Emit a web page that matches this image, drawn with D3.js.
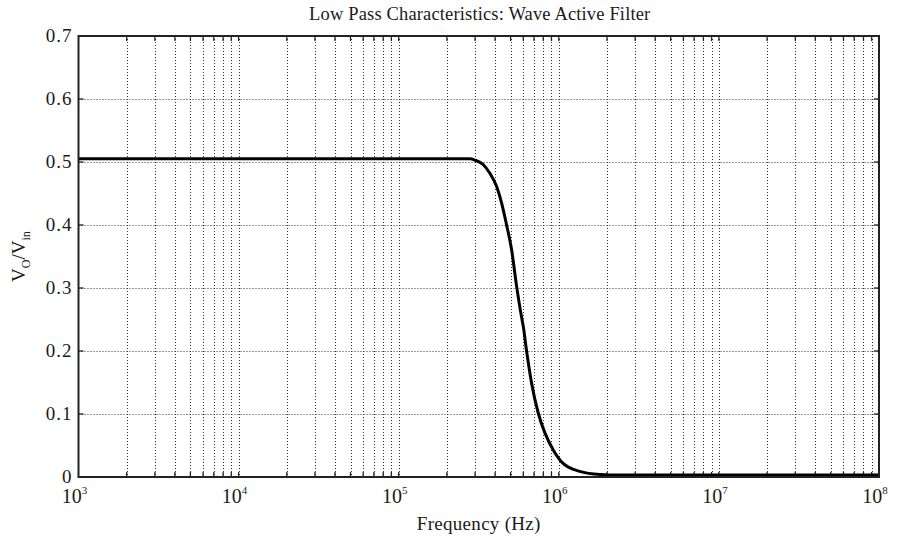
<!DOCTYPE html>
<html><head><meta charset="utf-8">
<script src="https://cdn.jsdelivr.net/npm/d3@7"></script>
<style>body{margin:0;background:#fff}svg{display:block}text{font-family:"Liberation Serif","Times New Roman",serif;fill:#1a1a1a}</style>
</head><body><svg id="c" width="897" height="540"></svg>
<script>
const title = "Low Pass Characteristics: Wave Active Filter";
const xLabel = "Frequency (Hz)";
const freq = [1e3, 1e4, 1e5, 2e5, 2.79e5, 2.99e5, 3.37e5, 3.71e5, 4.09e5, 4.39e5, 4.72e5, 5.07e5, 5.45e5, 5.86e5, 6.0e5, 6.3e5, 6.76e5, 7.43e5, 8.19e5, 9.23e5, 1.06e6, 1.35e6, 1.81e6, 2.4e6, 1e7, 1e8];
const gain = [0.505, 0.505, 0.505, 0.505, 0.505, 0.503, 0.496, 0.482, 0.461, 0.435, 0.400, 0.361, 0.303, 0.253, 0.239, 0.199, 0.149, 0.102, 0.070, 0.043, 0.022, 0.009, 0.004, 0.003, 0.003, 0.003];
const yTicks = [0, 0.1, 0.2, 0.3, 0.4, 0.5, 0.6, 0.7];
const xExps = [3, 4, 5, 6, 7, 8];

const svg = d3.select("#c");
const L = 78.5, R = 879, T = 36, B = 477;
const x = d3.scaleLog().domain([1e3, 1e8]).range([L, R]);
const y = d3.scaleLinear().domain([0, 0.7]).range([B, T]);

const gridX = [];
for (let e = 3; e < 8; e++) for (let m = 1; m <= 9; m++) { const v = m * Math.pow(10, e); if (v > 1e3) gridX.push(v); }

const g = svg.append("g");
g.selectAll(".vg").data(gridX).enter().append("line")
  .attr("x1", d => Math.round(x(d)) + 0.5).attr("x2", d => Math.round(x(d)) + 0.5)
  .attr("y1", T).attr("y2", B).attr("stroke", "#333").attr("stroke-width", 1).attr("stroke-dasharray", "1,2");
g.selectAll(".hg").data(yTicks.slice(1, -1)).enter().append("line")
  .attr("y1", d => Math.round(y(d)) + 0.5).attr("y2", d => Math.round(y(d)) + 0.5)
  .attr("x1", L).attr("x2", R).attr("stroke", "#333").attr("stroke-width", 1).attr("stroke-dasharray", "1,2");

const tk = 5;
g.selectAll(".tb").data(gridX).enter().append("line")
  .attr("x1", d => x(d)).attr("x2", d => x(d)).attr("y1", B).attr("y2", B - tk).attr("stroke", "#222").attr("stroke-width", 1.3);
g.selectAll(".tt").data(gridX).enter().append("line")
  .attr("x1", d => x(d)).attr("x2", d => x(d)).attr("y1", T).attr("y2", T + tk).attr("stroke", "#222").attr("stroke-width", 1.3);
g.selectAll(".tl").data(yTicks).enter().append("line")
  .attr("y1", d => y(d)).attr("y2", d => y(d)).attr("x1", L).attr("x2", L + tk).attr("stroke", "#222").attr("stroke-width", 1.3);
g.selectAll(".tr").data(yTicks).enter().append("line")
  .attr("y1", d => y(d)).attr("y2", d => y(d)).attr("x1", R).attr("x2", R - tk).attr("stroke", "#222").attr("stroke-width", 1.3);

const line = d3.line().x((d, i) => x(freq[i])).y(d => y(d)).curve(d3.curveMonotoneX);
svg.append("path").datum(gain).attr("d", line).attr("fill", "none").attr("stroke", "#000").attr("stroke-width", 3);

svg.append("rect").attr("x", L).attr("y", T).attr("width", R - L).attr("height", B - T)
  .attr("fill", "none").attr("stroke", "#222").attr("stroke-width", 2);

svg.selectAll(".yl").data(yTicks).enter().append("text")
  .attr("x", L - 6).attr("y", d => y(d) + 6).attr("text-anchor", "end")
  .attr("font-size", 19).attr("letter-spacing", 1).text(d => d === 0 ? "0" : d3.format(".1f")(d));

const xl = svg.selectAll(".xl").data(xExps).enter().append("text")
  .attr("x", d => x(Math.pow(10, d)) - 4).attr("y", 503).attr("text-anchor", "middle")
  .attr("font-size", 20);
xl.append("tspan").text("10");
xl.append("tspan").attr("dy", -9).attr("font-size", 11).text(d => d);

svg.append("text").attr("x", (L + R) / 2 + 1).attr("y", 20).attr("text-anchor", "middle")
  .attr("font-size", 18.5).attr("letter-spacing", 0.15).text(title);
svg.append("text").attr("x", (L + R) / 2).attr("y", 530).attr("text-anchor", "middle")
  .attr("font-size", 19).attr("letter-spacing", 0.3).text(xLabel);
const yl = svg.append("text").attr("transform", `translate(25,${(T + B) / 2}) rotate(-90)`)
  .attr("text-anchor", "middle").attr("font-size", 19);
yl.append("tspan").text("V");
yl.append("tspan").attr("dy", 5).attr("font-size", 12).text("O");
yl.append("tspan").attr("dy", -5).text("/V");
yl.append("tspan").attr("dy", 5).attr("font-size", 12).text("in");
</script></body></html>
